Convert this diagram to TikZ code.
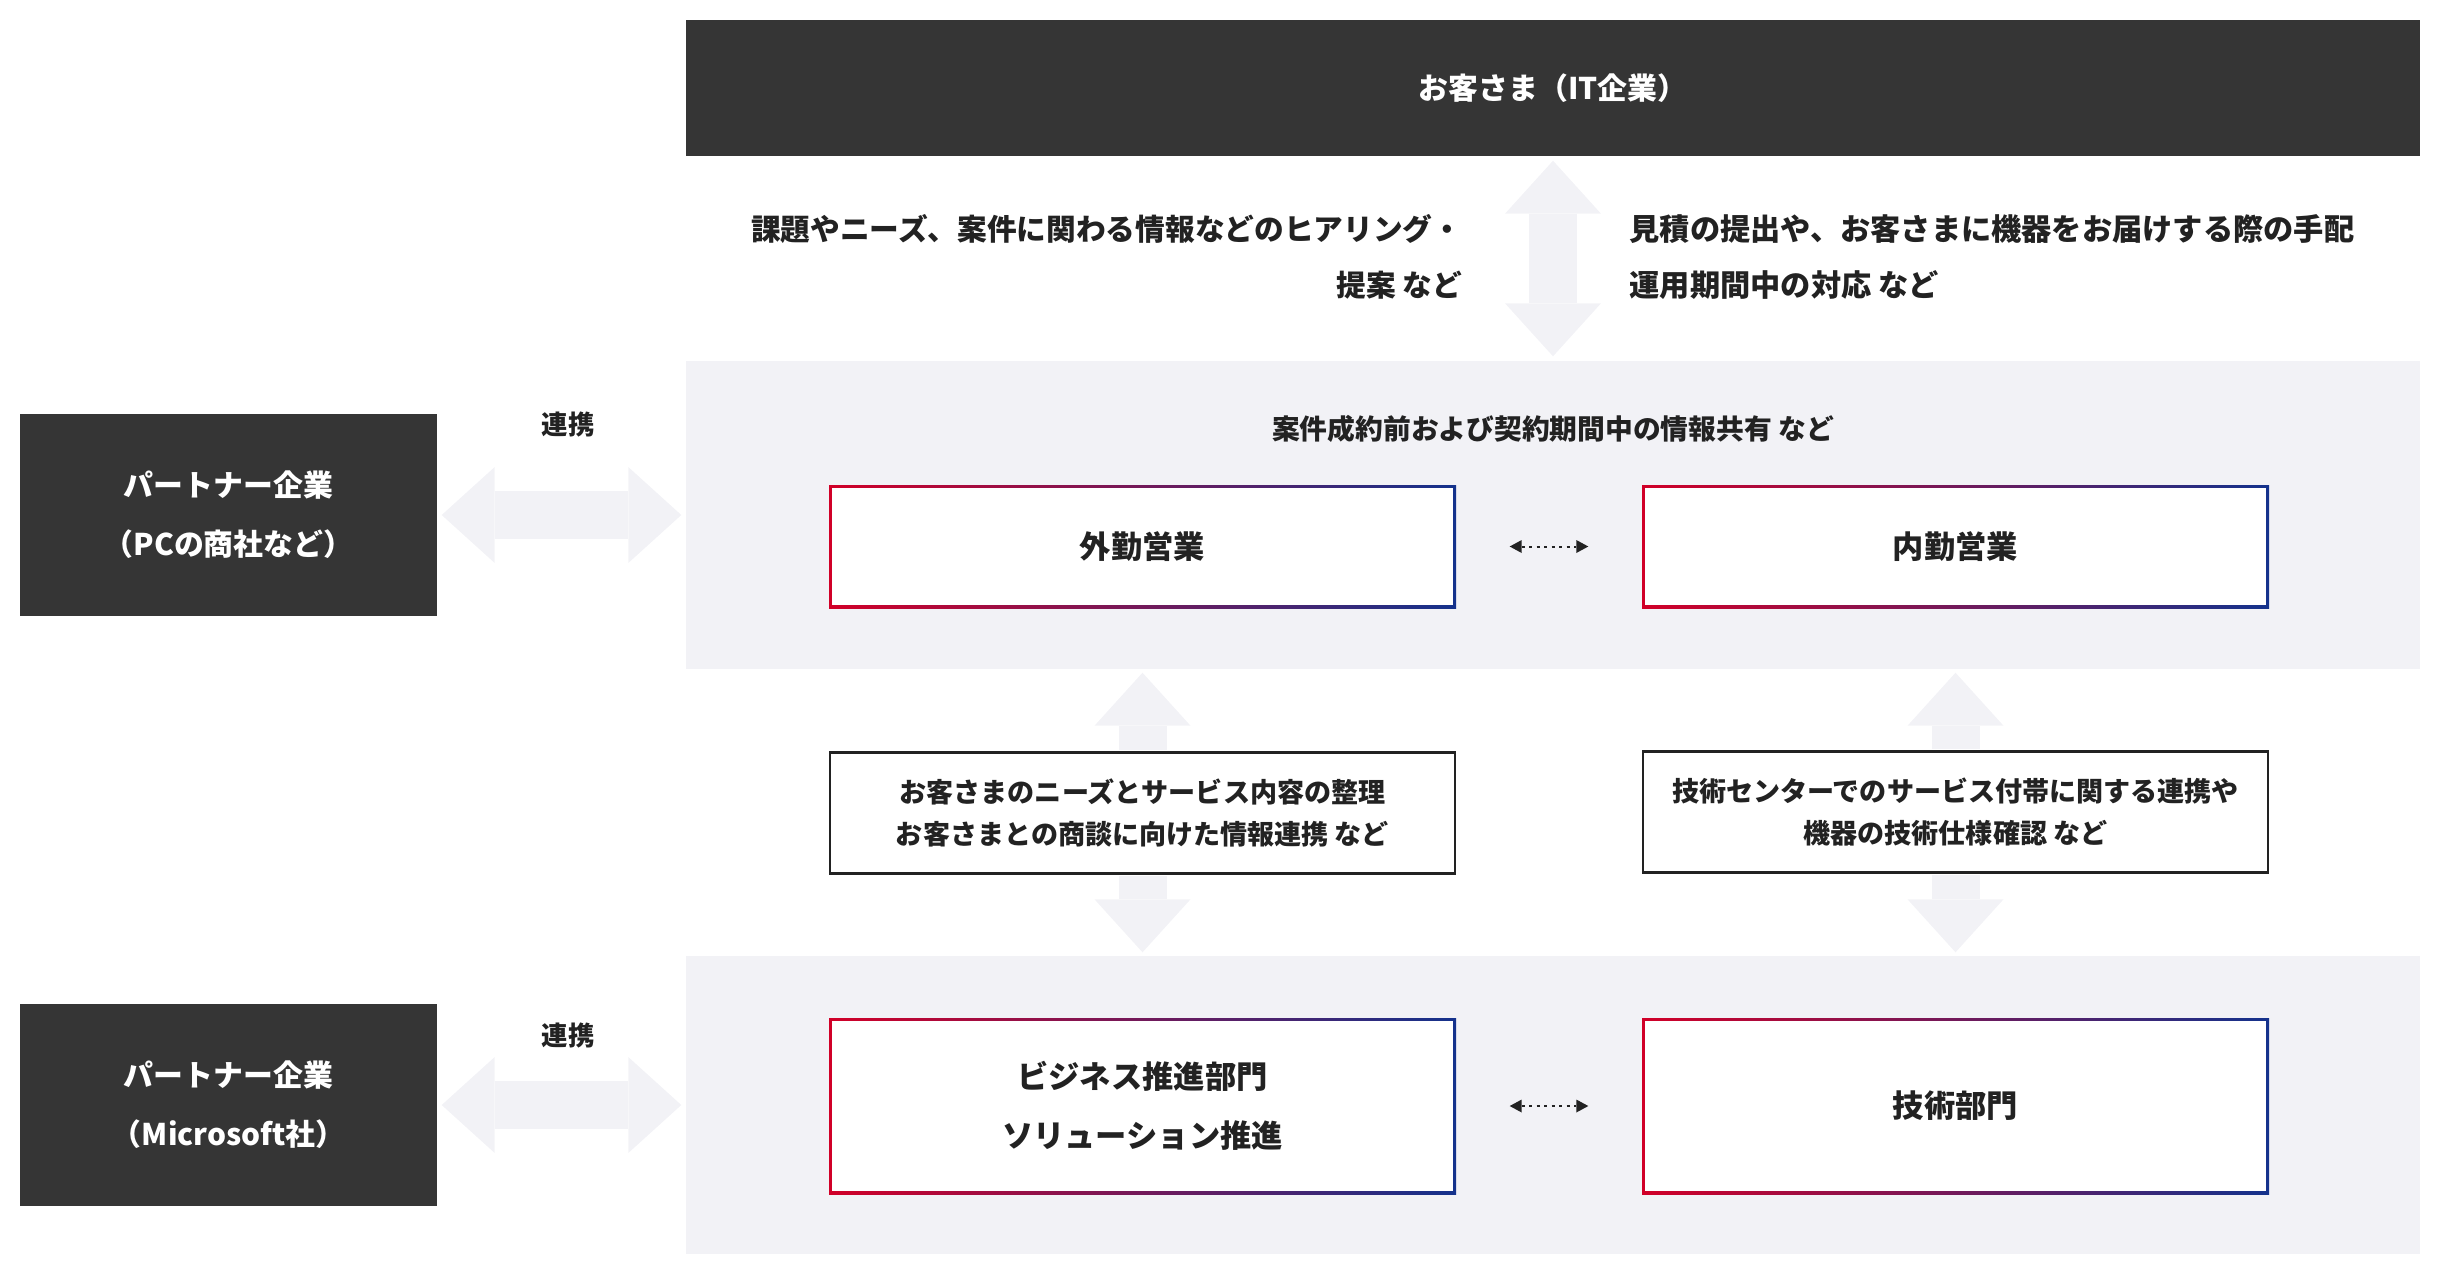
\documentclass[tikz,border=0pt]{standalone}
\usepackage{fontspec}
\setmainfont{Noto Sans CJK JP}
\usetikzlibrary{arrows.meta}

\definecolor{darkfill}{HTML}{353535}
\definecolor{bandgray}{HTML}{F2F2F6}
\definecolor{inkgray}{HTML}{222222}
\definecolor{redend}{HTML}{D10028}
\definecolor{blueend}{HTML}{14328C}

\tikzset{
	fattip/.tip={Triangle[length=5.3mm,width=9.6mm,line width=0pt]},
	smalltip/.tip={Triangle[length=1.2mm,width=1.3mm,line width=0pt]}
}

\begin{document}
\begin{tikzpicture}[x=1mm, y=-1mm,
	darkbox/.style={fill=darkfill, text=white, align=center, inner sep=0pt, font=\fontsize{8.5pt}{16.8pt}\selectfont\bfseries},
	band/.style={fill=bandgray, minimum width=173.4mm, inner sep=0pt},
	gradbox/.style={left color=redend, right color=blueend, minimum width=62.7mm, inner sep=0pt, align=center, text=inkgray,
		font=\fontsize{8.9pt}{16.8pt}\selectfont\bfseries,
		path picture={\fill[white] ([shift={(0.3mm,-0.3mm)}]path picture bounding box.north west) rectangle ([shift={(-0.3mm,0.3mm)}]path picture bounding box.south east);}},
	notebox/.style={draw=inkgray, line width=0.25mm, fill=white, minimum width=62.5mm, minimum height=12.1mm, inner sep=0pt, align=center, text=inkgray,
		font=\fontsize{7.7pt}{12.2pt}\selectfont\bfseries},
	remark/.style={text=inkgray, inner sep=0pt, font=\fontsize{8.6pt}{15.9pt}\selectfont\bfseries},
	smallremark/.style={text=inkgray, inner sep=0pt, font=\fontsize{7.7pt}{9pt}\selectfont\bfseries},
	fatarrow/.style={bandgray, line width=4.8mm, arrows={fattip-fattip}, shorten >=0.4mm, shorten <=0.4mm},
	halfarrow/.style={bandgray, line width=4.8mm, arrows={-fattip}, shorten >=0.3mm, shorten <=0.15mm},
	dotarrow/.style={inkgray, line width=0.2mm, dash pattern=on 0.3mm off 0.45mm, arrows={smalltip-smalltip}, shorten >=5.3mm, shorten <=5.3mm}
]
	\useasboundingbox (0,0) rectangle (244,127.6);

	% bands and boxes
	\node (client) at (155.3, 8.8) [darkbox, minimum width=173.4mm, minimum height=13.6mm] {お客さま（IT企業）};
	\node (salesband) at (155.3, 51.5) [band, minimum height=30.8mm] {};
	\node (bizband) at (155.3, 110.5) [band, minimum height=29.8mm] {};

	\node (partnerA) at (22.85, 51.5) [darkbox, minimum width=41.7mm, minimum height=20.2mm] {パートナー企業\\（PCの商社など）};
	\node (partnerB) at (22.85, 110.5) [darkbox, minimum width=41.7mm, minimum height=20.2mm] {パートナー企業\\（Microsoft社）};

	\node (outsales) at (114.25, 54.65) [gradbox, minimum height=12.3mm] {外勤営業};
	\node (insales) at (195.55, 54.65) [gradbox, minimum height=12.3mm] {内勤営業};
	\node (bizdept) at (114.25, 110.6) [gradbox, minimum height=17.6mm] {ビジネス推進部門\\ソリューション推進};
	\node (techdept) at (195.55, 110.6) [gradbox, minimum height=17.6mm] {技術部門};

	\node (needs) at (114.25, 81.3) [notebox] {お客さまのニーズとサービス内容の整理\\お客さまとの商談に向けた情報連携 など};
	\node (techlink) at (195.55, 81.2) [notebox] {技術センターでのサービス付帯に関する連携や\\機器の技術仕様確認 など};

	% texts
	\node (hearing) at (146.3, 25.7) [remark, anchor=east, align=right, font=\fontsize{8.45pt}{15.9pt}\selectfont\bfseries] {課題やニーズ、案件に関わる情報などのヒアリング・\\提案 など};
	\node (arrange) at (162.9, 25.7) [remark, anchor=west, align=left] {見積の提出や、お客さまに機器をお届けする際の手配\\運用期間中の対応 など};
	\node (shareinfo) at (155.3, 42.9) [smallremark, font=\fontsize{7.9pt}{9pt}\selectfont\bfseries] {案件成約前および契約期間中の情報共有 など};
	\node (linkA) at (56.8, 42.5) [smallremark, font=\fontsize{7.5pt}{9pt}\selectfont\bfseries] {連携};
	\node (linkB) at (56.8, 103.5) [smallremark, font=\fontsize{7.5pt}{9pt}\selectfont\bfseries] {連携};

	\path[fatarrow]
		(client) edge (salesband)
		(partnerA) edge (salesband)
		(partnerB) edge (bizband);
	\path[halfarrow]
		(needs.north) edge (needs.north |- salesband.south)
		(needs.south) edge (needs.south |- bizband.north)
		(techlink.north) edge (techlink.north |- salesband.south)
		(techlink.south) edge (techlink.south |- bizband.north);
	\path[dotarrow]
		(outsales) edge (insales)
		(bizdept) edge (techdept);
\end{tikzpicture}
\end{document}
